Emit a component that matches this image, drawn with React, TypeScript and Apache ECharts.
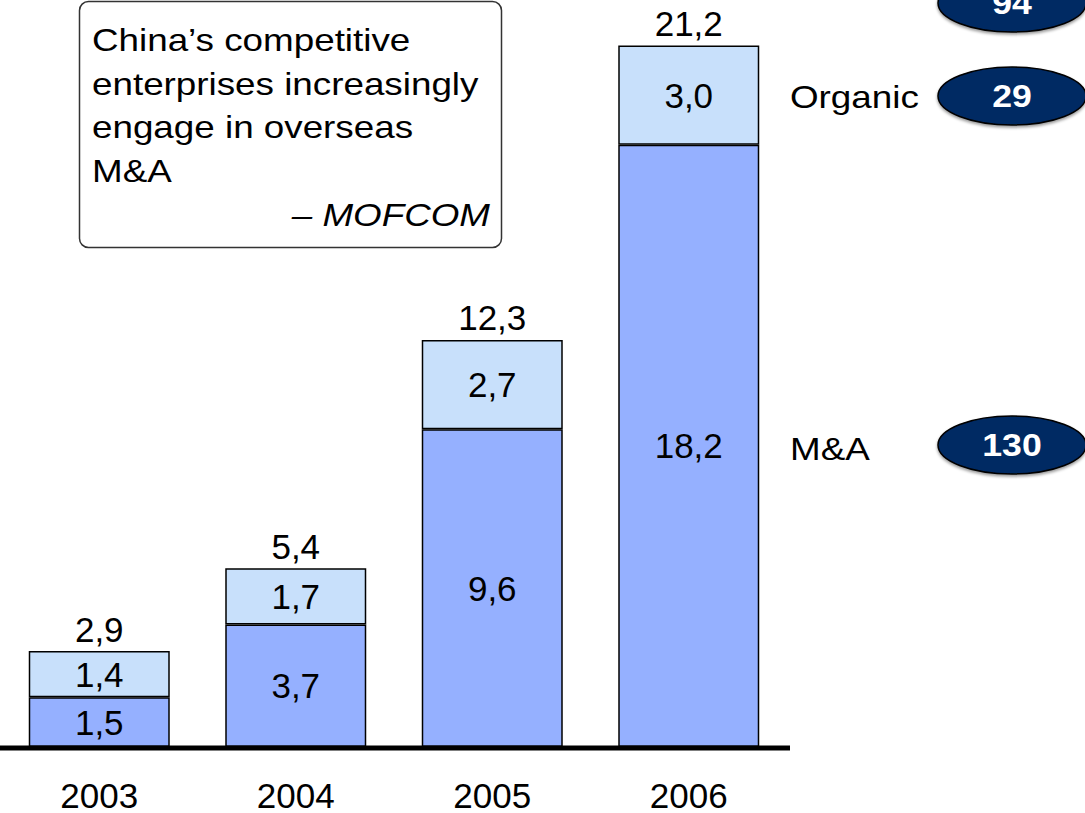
import React, { useEffect, useRef } from "react";
import * as echarts from "echarts";

const years = ["2003", "2004", "2005", "2006"];
const mna = [1.5, 3.7, 9.6, 18.2];
const organic = [1.4, 1.7, 2.7, 3.0];
const totals = [2.9, 5.4, 12.3, 21.2];
const seriesNames = ["Organic", "M&A"];
const bubbleValues = [94, 29, 130];
const quoteLines = ["China\u2019s competitive", "enterprises increasingly", "engage in overseas", "M&A"];
const quoteSource = "\u2013 MOFCOM";

const FONT = "'Liberation Sans', Arial, Helvetica, sans-serif";
const fmt = (v: number) => v.toFixed(1).replace(".", ",");
const SX = 1.15;
const LABEL_SIZE = 35;

export default function App() {
  const ref = useRef<HTMLDivElement>(null);
  useEffect(() => {
    if (!ref.current) return;
    const chart = echarts.init(ref.current, undefined, { renderer: "svg" });
    const bubbleY = [3, 96, 445];
    const ellipses: any[] = [];
    bubbleValues.forEach((v, i) => {
      ellipses.push({
        type: "ellipse",
        shape: { cx: 1012, cy: bubbleY[i], rx: 74, ry: 29 },
        style: { fill: "#032a64", stroke: "#000", lineWidth: 1.5, shadowBlur: 3, shadowColor: "rgba(0,0,0,0.4)", shadowOffsetY: 2 },
        z: 10,
      });
      ellipses.push({
        type: "text",
        x: 1012,
        y: bubbleY[i],
        scaleX: SX,
        style: { text: String(v), fill: "#fff", font: `bold 31px ${FONT}`, align: "center", verticalAlign: "middle" },
        z: 11,
      });
    });
    const lbl = { color: "#000", fontSize: LABEL_SIZE, fontFamily: FONT, lineHeight: 34 };
    chart.setOption({
      animation: false,
      textStyle: { fontFamily: FONT },
      grid: { left: 1, width: 786, top: 19, bottom: 66, containLabel: false },
      xAxis: {
        type: "category",
        data: years,
        axisLine: { show: false },
        axisTick: { show: false },
        axisLabel: { ...lbl, margin: 31 },
      },
      yAxis: { type: "value", min: 0, max: 22, show: false, splitLine: { show: false } },
      series: [
        {
          name: seriesNames[1],
          type: "bar",
          stack: "t",
          data: mna,
          barWidth: 141,
          itemStyle: { color: "#95b0ff", borderColor: "#000", borderWidth: 1.5 },
          label: { show: true, position: "inside", ...lbl, formatter: (p: any) => fmt(p.value) },
        },
        {
          name: seriesNames[0],
          type: "bar",
          stack: "t",
          data: organic,
          barWidth: 141,
          itemStyle: { color: "#c8e0fb", borderColor: "#000", borderWidth: 1.5 },
          label: { show: true, position: "inside", ...lbl, formatter: (p: any) => fmt(p.value) },
        },
        {
          type: "scatter",
          data: totals,
          symbolSize: 0,
          silent: true,
          itemStyle: { opacity: 1 },
          label: { show: true, position: "top", distance: 5, ...lbl, formatter: (p: any) => fmt(p.value) },
        },
      ],
      graphic: [
        {
          type: "line",
          shape: { x1: 0, y1: 748, x2: 790, y2: 748 },
          style: { stroke: "#000", lineWidth: 5 },
          z: 20,
        },
        {
          type: "rect",
          shape: { x: 79.5, y: 1.5, width: 422, height: 246, r: 9 },
          style: { fill: "#fff", stroke: "#333", lineWidth: 1.5 },
          z: 5,
        },
        ...quoteLines.map((t, i) => ({
          type: "text",
          x: 92,
          y: 40 + i * 43.5,
          scaleX: SX,
          style: { text: t, fill: "#000", font: `32px ${FONT}`, align: "left", verticalAlign: "middle" },
          z: 6,
        })),
        {
          type: "text",
          x: 490,
          y: 215,
          scaleX: SX,
          style: { text: quoteSource, fill: "#000", font: `italic 32px ${FONT}`, align: "right", verticalAlign: "middle" },
          z: 6,
        },
        {
          type: "text",
          x: 790,
          y: 97,
          scaleX: SX,
          style: { text: seriesNames[0], fill: "#000", font: `32px ${FONT}`, align: "left", verticalAlign: "middle" },
        },
        {
          type: "text",
          x: 790,
          y: 449,
          scaleX: SX,
          style: { text: seriesNames[1], fill: "#000", font: `32px ${FONT}`, align: "left", verticalAlign: "middle" },
        },
        ...ellipses,
      ],
    });
    return () => chart.dispose();
  }, []);
  return (
    <div
      ref={ref}
      style={{ position: "fixed", left: 0, top: 0, width: 1085, height: 813, background: "#fff" }}
    />
  );
}
